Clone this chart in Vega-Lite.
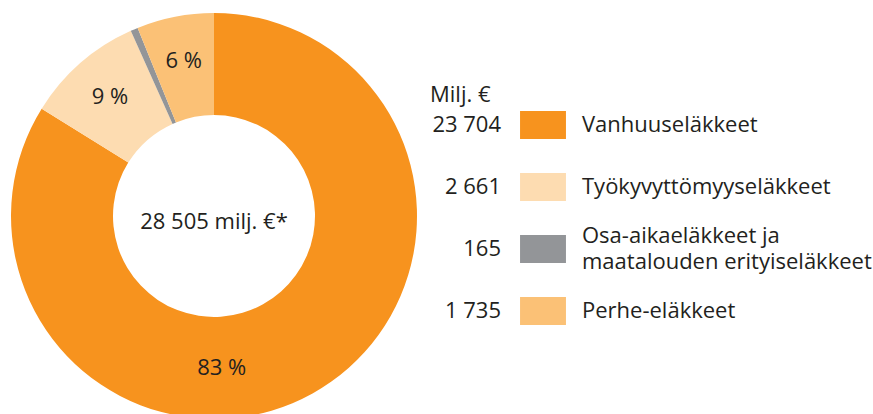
{
  "$schema": "https://vega.github.io/schema/vega-lite/v6.json",
  "padding": 0,
  "spacing": 0,
  "background": "white",
  "config": {
    "view": {"stroke": null},
    "font": "Open Sans",
    "text": {"font": "Open Sans", "fontSize": 22, "fill": "#231F20"}
  },
  "datasets": {
    "pensions": [
      {"order": 1, "label": "Vanhuuseläkkeet", "value": 23704, "amount": "23 704", "pct": "83 %"},
      {"order": 2, "label": "Työkyvyttömyyseläkkeet", "value": 2661, "amount": "2 661", "pct": "9 %"},
      {"order": 3, "label": "Osa-aikaeläkkeet ja\nmaatalouden erityiseläkkeet", "value": 165, "amount": "165", "pct": ""},
      {"order": 4, "label": "Perhe-eläkkeet", "value": 1735, "amount": "1 735", "pct": "6 %"}
    ]
  },
  "hconcat": [
    {
      "width": 428,
      "height": 432,
      "layer": [
        {
          "data": {"name": "pensions"},
          "mark": {"type": "arc", "outerRadius": 203, "innerRadius": 101},
          "encoding": {
            "theta": {"field": "value", "type": "quantitative", "stack": true},
            "order": {"field": "order", "type": "quantitative"},
            "color": {
              "field": "label",
              "type": "nominal",
              "scale": {
                "domain": ["Vanhuuseläkkeet", "Työkyvyttömyyseläkkeet", "Osa-aikaeläkkeet ja\nmaatalouden erityiseläkkeet", "Perhe-eläkkeet"],
                "range": ["#F7931E", "#FDDCB1", "#939598", "#FBC176"]
              },
              "legend": null
            }
          }
        },
        {
          "data": {"name": "pensions"},
          "mark": {"type": "text", "radius": 158, "align": "center", "baseline": "middle", "fontSize": 22, "fill": "#231F20"},
          "encoding": {
            "theta": {"field": "value", "type": "quantitative", "stack": true},
            "order": {"field": "order", "type": "quantitative"},
            "detail": {"field": "label", "type": "nominal"},
            "text": {"condition": {"test": "datum.order == 1", "value": ""}, "field": "pct"}
          }
        },
        {
          "data": {"name": "pensions"},
          "mark": {"type": "text", "radius": 158, "align": "center", "baseline": "middle", "fontSize": 22, "fill": "#231F20", "dx": -69, "dy": 14},
          "encoding": {
            "theta": {"field": "value", "type": "quantitative", "stack": true},
            "order": {"field": "order", "type": "quantitative"},
            "detail": {"field": "label", "type": "nominal"},
            "text": {"condition": {"test": "datum.order != 1", "value": ""}, "field": "pct"}
          }
        },
        {
          "data": {"values": [{"t": "28 505 milj. €*"}]},
          "mark": {"type": "text", "align": "center", "baseline": "middle", "fontSize": 22, "fill": "#231F20", "dy": 6},
          "encoding": {"text": {"field": "t"}}
        }
      ]
    },
    {
      "width": 445,
      "height": 432,
      "data": {"name": "pensions"},
      "title": {
        "text": "Milj. €",
        "anchor": "start",
        "frame": "group",
        "orient": "top",
        "offset": -124,
        "baseline": "alphabetic",
        "fontSize": 22,
        "fontWeight": "normal",
        "font": "Open Sans",
        "color": "#231F20",
        "dx": 2
      },
      "encoding": {
        "y": {
          "field": "label",
          "type": "nominal",
          "sort": {"field": "order", "op": "min"},
          "scale": {"type": "point", "range": [125, 311], "padding": 0},
          "axis": null
        }
      },
      "layer": [
        {
          "mark": {"type": "text", "align": "right", "baseline": "middle", "x": 73, "fontSize": 22, "fill": "#231F20"},
          "encoding": {"text": {"field": "amount"}}
        },
        {
          "mark": {"type": "point", "shape": "M-1.64,-1H1.64V1H-1.64Z", "size": 784, "filled": true, "opacity": 1, "strokeWidth": 0, "x": 115},
          "encoding": {
            "color": {"field": "label", "type": "nominal", "legend": null}
          }
        },
        {
          "mark": {"type": "text", "align": "left", "baseline": "middle", "x": 154, "fontSize": 22, "fill": "#231F20"},
          "encoding": {"text": {"condition": {"test": "datum.order == 3", "value": ""}, "field": "label"}}
        },
        {
          "mark": {"type": "text", "align": "left", "baseline": "middle", "x": 154, "fontSize": 22, "lineBreak": "\n", "lineHeight": 26, "dy": -13, "fill": "#231F20"},
          "encoding": {"text": {"condition": {"test": "datum.order != 3", "value": ""}, "field": "label"}}
        }
      ]
    }
  ]
}
